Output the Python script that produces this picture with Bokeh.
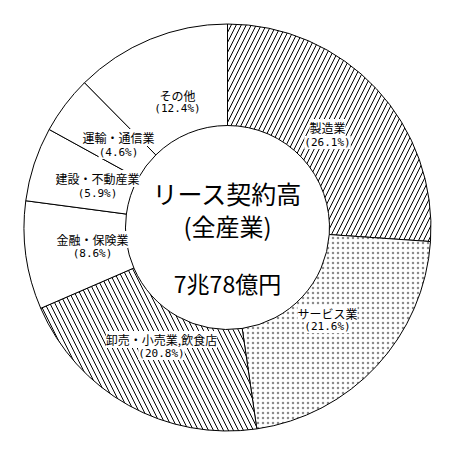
import numpy as np
from bokeh.plotting import figure
from bokeh.models import ColumnDataSource
from bokeh.core.properties import value
from bokeh.embed import file_html
from bokeh.resources import INLINE

# data
categories = ["製造業", "サービス業", "卸売・小売業,飲食店", "金融・保険業",
              "建設・不動産業", "運輸・通信業", "その他"]
shares = [26.1, 21.6, 20.8, 8.6, 5.9, 4.6, 12.4]
hatches = ["/", ".", "\\", " ", " ", " ", " "]
hatch_scales = [10, 5, 10, 10, 10, 10, 10]
hatch_alphas = [1, 0.45, 1, 1, 1, 1, 1]
title_lines = ["リース契約高", "(全産業)"]
total_label = "7兆78億円"

# label anchor positions (pixel offsets from centre, y up)
name_x = [100, 100, -66, -135, -130, -109, -50]
name_y = [100, -86, -112, -12, 49, 90, 132]
pct_y = [85, -99, -126, -26, 34, 75, 119]

R_OUT, R_IN = 203.5, 102
frac = np.array(shares) / 100.0
cum = np.concatenate([[0], np.cumsum(frac)])
start = np.pi / 2 - 2 * np.pi * cum[:-1]
end = np.pi / 2 - 2 * np.pi * cum[1:]

src = ColumnDataSource(dict(
    start=start, end=end, hatch=hatches, hscale=hatch_scales, halpha=hatch_alphas,
    nx=name_x, ny=name_y, py=pct_y, name=categories,
    pct=[f"({s}%)" for s in shares],
))

W = 454
p = figure(width=W, height=W, x_range=(-W / 2, W / 2), y_range=(-W / 2, W / 2),
           output_backend="svg", toolbar_location=None, min_border=0)
p.axis.visible = False
p.grid.visible = False
p.outline_line_color = None
p.background_fill_color = "white"

p.annular_wedge(x=0, y=0, inner_radius=R_IN, outer_radius=R_OUT,
                start_angle="start", end_angle="end", direction="clock",
                source=src, fill_color="white", line_color="black", line_width=1,
                hatch_pattern="hatch", hatch_scale="hscale", hatch_weight=1,
                hatch_alpha="halpha", hatch_color="black")

p.text(x="nx", y="ny", text="name", source=src, text_align="center",
       text_baseline="middle", text_font=value("Noto Sans CJK JP"),
       text_font_size="12px", text_color="black",
       background_fill_color="white")
p.text(x="nx", y="py", text="pct", source=src, text_align="center",
       text_baseline="middle", text_font=value("DejaVu Sans Mono"),
       text_font_size="11px", text_color="black",
       background_fill_color="white")

p.text(x=[0, 0, 0], y=[35, 2, -55], text=title_lines + [total_label],
       text_align="center", text_baseline="middle",
       text_font=value("Noto Sans CJK JP"),
       text_font_size=["25px", "24px", "23px"], text_color="black")

open("out.html", "w").write(file_html(p, INLINE))
